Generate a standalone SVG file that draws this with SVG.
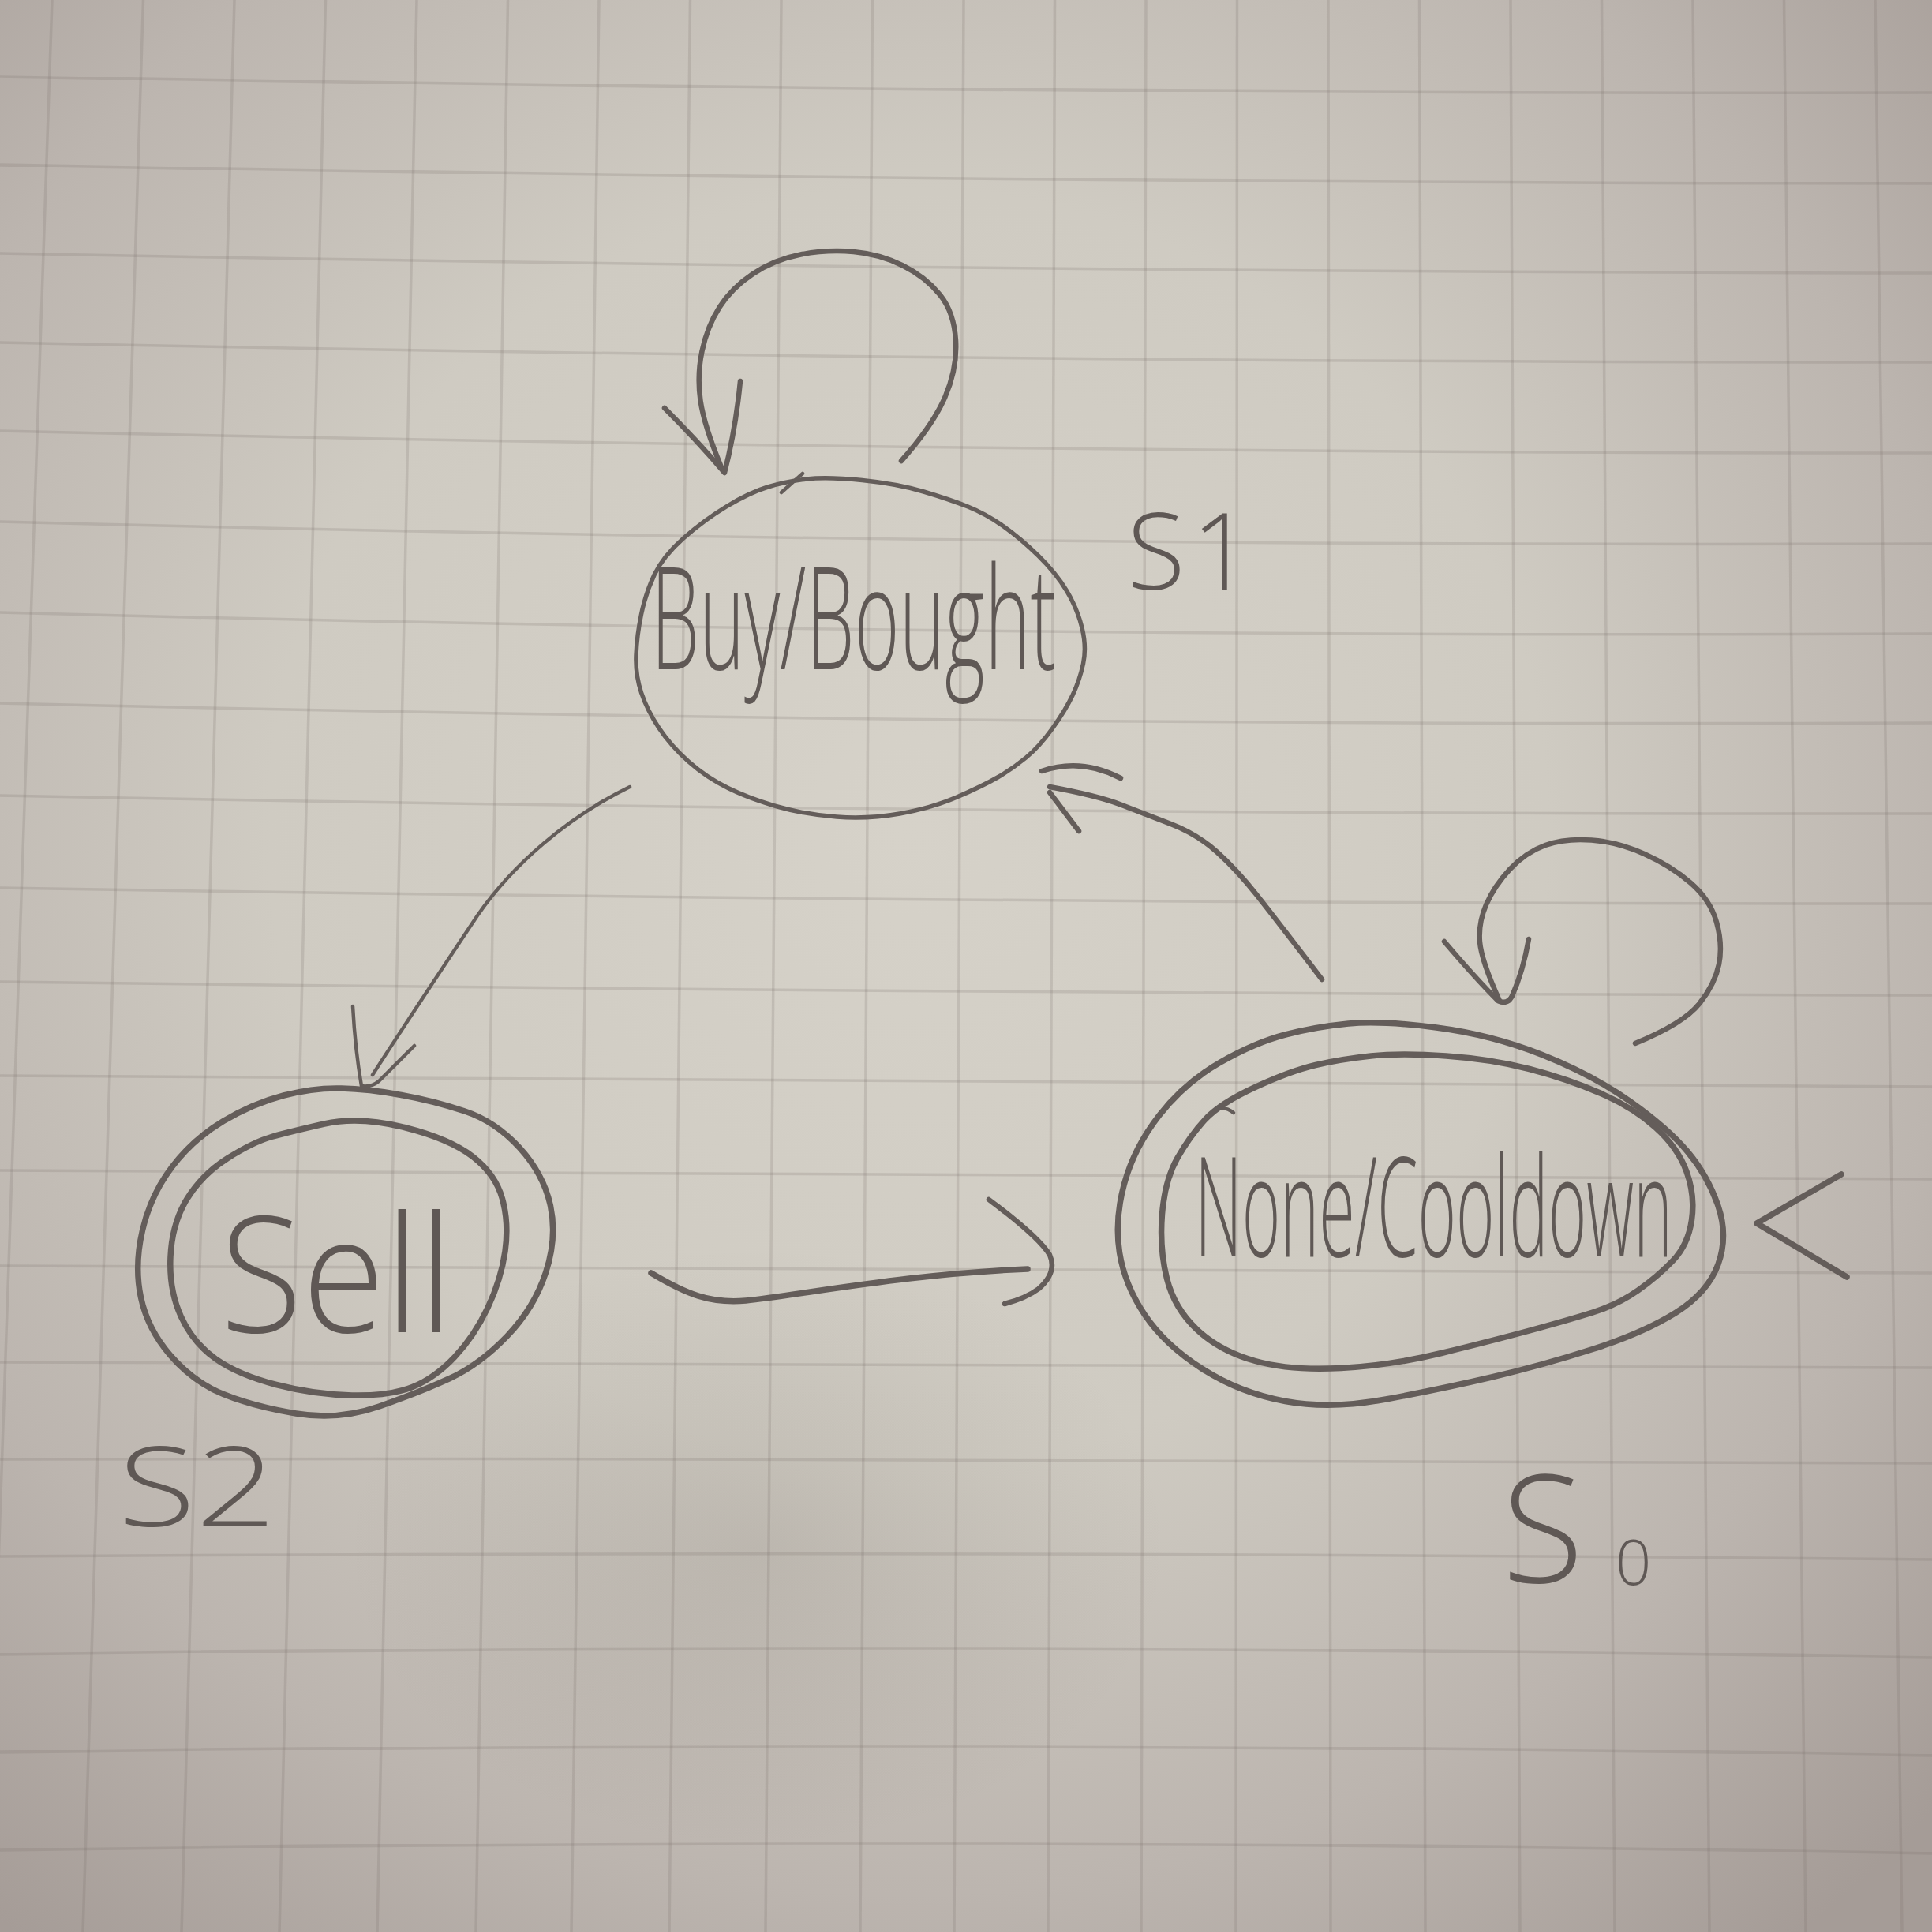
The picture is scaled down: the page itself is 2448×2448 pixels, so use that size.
<svg xmlns="http://www.w3.org/2000/svg" width="2448" height="2448" viewBox="0 0 2448 2448">
  <defs>
    <radialGradient id="paper" cx="1150" cy="1050" r="1800" gradientUnits="userSpaceOnUse">
      <stop offset="0" stop-color="#d6d2c9"/>
      <stop offset="0.45" stop-color="#cfcbc2"/>
      <stop offset="0.75" stop-color="#bcb5af"/>
      <stop offset="1" stop-color="#a59c97"/>
    </radialGradient>
    <radialGradient id="shade" cx="0.5" cy="0.5" r="0.5">
      <stop offset="0" stop-color="#5a504b" stop-opacity="0.13"/>
      <stop offset="1" stop-color="#5a504b" stop-opacity="0"/>
    </radialGradient>
    <style>
      .grid line, .grid path { fill: none; stroke: #7a706b; stroke-opacity: 0.2; stroke-width: 3.5; }
      .ink { fill: none; stroke: #645d5a; stroke-linecap: round; stroke-linejoin: round; stroke-width: 6.5; }
      .thin { stroke-width: 4.5; }
      .mid { stroke-width: 5.5; }
      .thick { stroke-width: 7.5; }
      .hand { fill: #5f5855; font-family: "Open Sans", "Lato", "Liberation Sans", sans-serif; font-weight: 300; }
    </style>
  </defs>

  <g id="background">
    <rect x="0" y="0" width="2448" height="2448" fill="url(#paper)"/>
    <ellipse cx="960" cy="1960" rx="520" ry="380" fill="url(#shade)"/>
  </g>

  <g id="grid" class="grid">
    <line x1="66" y1="0" x2="-18" y2="2448"/>
    <line x1="181.5" y1="0" x2="105" y2="2448"/>
    <line x1="297" y1="0" x2="230" y2="2448"/>
    <line x1="412.5" y1="0" x2="354" y2="2448"/>
    <line x1="528" y1="0" x2="478" y2="2448"/>
    <line x1="643.5" y1="0" x2="603" y2="2448"/>
    <line x1="759" y1="0" x2="724" y2="2448"/>
    <line x1="874.5" y1="0" x2="848" y2="2448"/>
    <line x1="990" y1="0" x2="970" y2="2448"/>
    <line x1="1105.5" y1="0" x2="1090" y2="2448"/>
    <line x1="1221" y1="0" x2="1209" y2="2448"/>
    <line x1="1336.5" y1="0" x2="1328" y2="2448"/>
    <line x1="1452" y1="0" x2="1446" y2="2448"/>
    <line x1="1567.5" y1="0" x2="1566" y2="2448"/>
    <line x1="1683" y1="0" x2="1686" y2="2448"/>
    <line x1="1798.5" y1="0" x2="1806" y2="2448"/>
    <line x1="1914" y1="0" x2="1926" y2="2448"/>
    <line x1="2029.5" y1="0" x2="2046" y2="2448"/>
    <line x1="2145" y1="0" x2="2166" y2="2448"/>
    <line x1="2260.5" y1="0" x2="2288" y2="2448"/>
    <line x1="2376" y1="0" x2="2410" y2="2448"/>
    <path d="M0 97 Q1224 119 2448 117"/>
    <path d="M0 209 Q1224 231.5 2448 232"/>
    <path d="M0 321 Q1224 344.5 2448 346"/>
    <path d="M0 434 Q1224 459.5 2448 459"/>
    <path d="M0 546 Q1224 574 2448 574"/>
    <path d="M0 661 Q1224 693 2448 689"/>
    <path d="M0 776 Q1224 808.5 2448 803"/>
    <path d="M0 891 Q1224 920.5 2448 916"/>
    <path d="M0 1008 Q1224 1032.5 2448 1031"/>
    <path d="M0 1125 Q1224 1145 2448 1145"/>
    <path d="M0 1244 Q1224 1259.5 2448 1261"/>
    <path d="M0 1363 Q1224 1374 2448 1377"/>
    <path d="M0 1483 Q1224 1489.5 2448 1494"/>
    <path d="M0 1604 Q1224 1607.5 2448 1613"/>
    <path d="M0 1726 Q1224 1726.5 2448 1733"/>
    <path d="M0 1849 Q1224 1846.5 2448 1854"/>
    <path d="M0 1972 Q1224 1964 2448 1976"/>
    <path d="M0 2096 Q1224 2080 2448 2100"/>
    <path d="M0 2220 Q1224 2204 2448 2224"/>
    <path d="M0 2344 Q1224 2326 2448 2348"/>
  </g>

  <g id="node-s1">
    <path class="ink mid" d="M1022 607 Q1048 604 1092.5 608.5 Q1137 613 1170.5 623 Q1204 633 1226.5 642 Q1249 651 1271 666.5 Q1293 682 1315.5 704 Q1338 726 1351.5 748.5 Q1365 771 1371 795.5 Q1377 820 1372.5 841 Q1368 862 1359 881 Q1350 900 1333.5 923 Q1317 946 1300 960 Q1283 974 1264 985 Q1245 996 1212.5 1010 Q1180 1024 1140 1031 Q1100 1038 1060 1035 Q1020 1032 985 1022 Q950 1012 922.5 998.5 Q895 985 872.5 965 Q850 945 835 922.5 Q820 900 812.5 877.5 Q805 855 806 830 Q807 805 812.5 778.5 Q818 752 829 728.5 Q840 705 866 682 Q892 659 921 641.5 Q950 624 973 617 Q996 610 1022 607"/>
    <path class="ink thin" d="M990 624 L1017 600"/>
    <text class="hand" x="825" y="848" font-size="180" textLength="513" lengthAdjust="spacingAndGlyphs">Buy/Bought</text>
    <text class="hand" x="1428" y="747" font-size="135" letter-spacing="8">S1</text>
  </g>

  <g id="node-s2">
    <path class="ink thick" d="M432.5 1379 Q467 1380 508.5 1387.5 Q550 1395 589 1408 Q628 1421 658.5 1454.5 Q689 1488 697.5 1528 Q706 1568 691.5 1612.5 Q677 1657 642.5 1693 Q608 1729 570 1746.5 Q532 1764 480.5 1782 Q429 1800 375 1791 Q321 1782 283 1766.5 Q245 1751 216 1717.5 Q187 1684 178.5 1644 Q170 1604 180.5 1559 Q191 1514 218 1478.5 Q245 1443 283 1420.5 Q321 1398 359.5 1388 Q398 1378 432.5 1379 Q467 1380 500 1386"/>
    <path class="ink thick" d="M411 1424 Q455 1414 512.5 1428.5 Q570 1443 599 1465.5 Q628 1488 636.5 1519 Q645 1550 640 1585.5 Q635 1621 618 1657 Q601 1693 576 1719.5 Q551 1746 522.5 1757.5 Q494 1769 446 1768 Q398 1767 350 1754.5 Q302 1742 273.5 1722 Q245 1702 229.5 1668.5 Q214 1635 216 1592.5 Q218 1550 237 1519 Q256 1488 288.5 1467.5 Q321 1447 344 1440.5 Q367 1434 411 1424"/>
    <text class="hand" x="279" y="1688" font-size="205" textLength="295" lengthAdjust="spacingAndGlyphs">Sell</text>
    <text class="hand" x="150" y="1934" font-size="140" textLength="200" lengthAdjust="spacingAndGlyphs">S2</text>
  </g>

  <g id="node-s0">
    <path class="ink thick" d="M1708.5 1297 Q1750 1293 1820 1302 Q1890 1311 1954 1336.5 Q2018 1362 2065.5 1395.5 Q2113 1429 2138.5 1459.5 Q2164 1490 2177 1528 Q2190 1566 2177 1602 Q2164 1638 2123 1663.5 Q2082 1689 2018 1709.5 Q1954 1730 1890 1745 Q1826 1760 1756 1773 Q1686 1786 1628.5 1775.5 Q1571 1765 1523.5 1734.5 Q1476 1704 1450.5 1666 Q1425 1628 1418.5 1587 Q1412 1546 1424.5 1500 Q1437 1454 1469 1413 Q1501 1372 1545.5 1346.5 Q1590 1321 1628.5 1311 Q1667 1301 1708.5 1297"/>
    <path class="ink thick" d="M1737 1338 Q1775 1334 1832.5 1338 Q1890 1342 1938 1354.5 Q1986 1367 2027.5 1385 Q2069 1403 2097.5 1428.5 Q2126 1454 2137 1484.5 Q2148 1515 2143.5 1546 Q2139 1577 2120 1597 Q2101 1617 2075.5 1635 Q2050 1653 2018 1663 Q1986 1673 1938 1686 Q1890 1699 1826.5 1714.5 Q1763 1730 1699 1733.5 Q1635 1737 1590.5 1724.5 Q1546 1712 1517 1685 Q1488 1658 1478.5 1620 Q1469 1582 1472.5 1538.5 Q1476 1495 1492 1467 Q1508 1439 1527 1418.5 Q1546 1398 1590.5 1377.5 Q1635 1357 1667 1349.5 Q1699 1342 1737 1338"/>
    <path class="ink thin" d="M1541 1406 Q1552 1401 1563 1410"/>
    <text class="hand" x="1514" y="1592" font-size="175" textLength="605" lengthAdjust="spacingAndGlyphs">None/Cooldown</text>
    <text class="hand" x="1903" y="2005" font-size="190">S<tspan dx="40" dy="3" font-size="80">0</tspan></text>
  </g>

  <g id="connectors">
    <!-- self-loop on Buy/Bought -->
    <path class="ink" d="M1142 584 Q1182 539 1197.5 503 Q1213 467 1211 431.5 Q1209 396 1191 373.5 Q1173 351 1144 336.5 Q1115 322 1081.5 319 Q1048 316 1014.5 322.5 Q981 329 954 347 Q927 365 911.5 389.5 Q896 414 889.5 445 Q883 476 887.5 507.5 Q892 539 914 592"/>
    <path class="ink" d="M842 517 Q885 560 918 599 Q932 545 938 483"/>
    <!-- Buy/Bought to Sell -->
    <path class="ink thin" d="M798 997 C720 1035 650 1095 605 1160 C565 1220 515 1295 472 1362"/>
    <path class="ink thin" d="M447 1275 Q450 1330 458 1376 Q470 1378 480 1370 L525 1325"/>
    <!-- Sell to None/Cooldown -->
    <path class="ink thick" d="M825 1613 C870 1640 900 1652 945 1648 C1020 1640 1150 1614 1302 1608"/>
    <path class="ink" d="M1253 1520 Q1316 1567 1330 1590 Q1340 1612 1316 1633 Q1300 1645 1273 1652"/>
    <!-- None/Cooldown to Buy/Bought -->
    <path class="ink" d="M1675 1241 Q1617 1165 1592 1133.5 Q1567 1102 1542 1079.5 Q1517 1057 1483.5 1044 Q1450 1031 1420 1019.5 Q1390 1008 1330 997"/>
    <path class="ink" d="M1420 986 Q1370 960 1320 977"/>
    <path class="ink" d="M1367 1053 L1330 1004"/>
    <!-- self-loop on None/Cooldown -->
    <path class="ink" d="M2072 1322 Q2133 1297 2153 1272 Q2173 1247 2178 1222 Q2183 1197 2175 1168.5 Q2167 1140 2142 1118.5 Q2117 1097 2083.5 1082 Q2050 1067 2016.5 1064.5 Q1983 1062 1958 1071 Q1933 1080 1913 1101.5 Q1893 1123 1883 1146.5 Q1873 1170 1875 1193.5 Q1877 1217 1900 1268"/>
    <path class="ink" d="M1830 1193 Q1870 1240 1898 1268 Q1910 1274 1916 1262 Q1930 1230 1937 1190"/>
    <!-- start arrow -->
    <path class="ink thick" d="M2333 1488 L2226 1550 L2340 1618"/>
  </g>
</svg>
